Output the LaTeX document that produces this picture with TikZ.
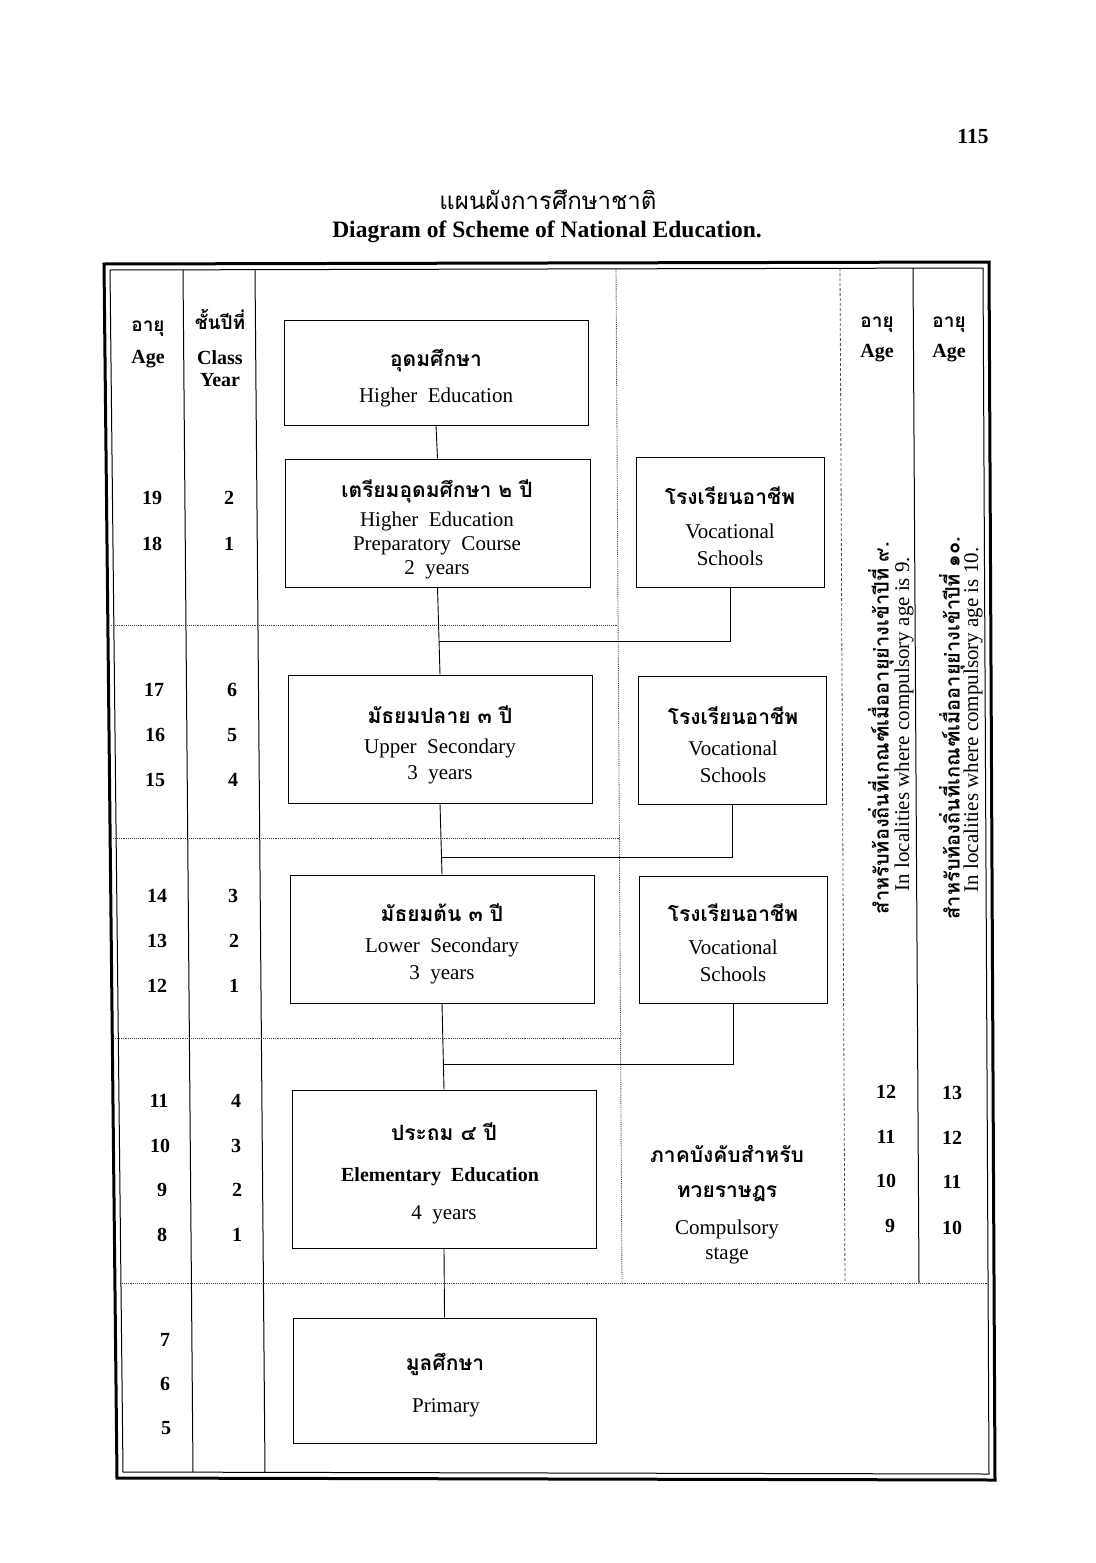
\documentclass[tikz,border=0pt]{standalone}
\usepackage{fontspec}
\setmainfont{Liberation Serif}
\newfontfamily\thai[Script=Thai]{Loma}
\usetikzlibrary{calc}
\begin{document}
\begin{tikzpicture}[x=1pt,y=-1pt,
  box/.style={draw, line width=1pt, inner sep=0pt, minimum width=#1},
  box/.default=304pt,
  th/.style={font=\thai\bfseries\fontsize{21}{24}\selectfont, inner sep=0pt},
  en/.style={font=\fontsize{21}{24}\selectfont, inner sep=0pt},
  num/.style={font=\bfseries\fontsize{20}{22}\selectfont, inner sep=0pt},
  hd/.style={font=\bfseries\fontsize{20}{22}\selectfont, inner sep=0pt},
  thh/.style={font=\thai\bfseries\fontsize{19}{22}\selectfont, inner sep=0pt},
  sep/.style={line width=1pt},
  dots/.style={densely dotted, line width=0.9pt, black!75},
  link/.style={line width=0.9pt}]
\useasboundingbox (0,0) rectangle (1095,1563);

% page number and titles
\node[font=\bfseries\fontsize{21.5}{24}\selectfont, inner sep=0pt] (pg) at (973,137) {115};
\node[font=\thai\fontsize{24}{28}\selectfont, inner sep=0pt] (titth) at (548,200) {แผนผังการศึกษาชาติ};
\node[font=\bfseries\fontsize{23.5}{26}\selectfont, inner sep=0pt] (titen) at (547,232) {Diagram of Scheme of National Education.};

% frame (double rule)
\coordinate (oTL) at (104,264); \coordinate (oTR) at (989,262);
\coordinate (oBR) at (995,1480); \coordinate (oBL) at (117,1478);
\coordinate (iTL) at (110,270); \coordinate (iTR) at (983,268);
\coordinate (iBR) at (989,1474); \coordinate (iBL) at (123,1472);
\draw[line width=3pt] (oTL) -- (oTR) -- (oBR) -- (oBL) -- cycle;
\draw[line width=1pt] (iTL) -- (iTR) -- (iBR) -- (iBL) -- cycle;

% column separators
\coordinate (c1t) at (183,270); \coordinate (c1b) at (193,1472);
\coordinate (c2t) at (255,270); \coordinate (c2b) at (265,1472);
\draw[sep] (c1t) -- (c1b);
\draw[sep] (c2t) -- (c2b);
\coordinate (c3t) at (616,269); \coordinate (c3b) at (622,1283);
\draw[dots] (c3t) -- (c3b);
\coordinate (c4t) at (840,268); \coordinate (c4b) at (845,1283);
\draw[densely dashed, line width=0.8pt, black!70] (c4t) -- (c4b);
\coordinate (c5t) at (913,268); \coordinate (c5b) at (919,1283);
\draw[sep] (c5t) -- (c5b);

% dotted horizontal rules
\coordinate (h1a) at (111,625); \coordinate (h1b) at (617,625);
\coordinate (h2a) at (113,838); \coordinate (h2b) at (619,838);
\coordinate (h3a) at (115,1038); \coordinate (h3b) at (620,1038);
\coordinate (h4a) at (120,1283); \coordinate (h4b) at (987,1283);
\draw[dots] (h1a) -- (h1b);
\draw[dots] (h2a) -- (h2b);
\draw[dots] (h3a) -- (h3b);
\draw[dots] (h4a) -- (h4b);

% boxes
\node[box, minimum height=105pt] (hi) at (436,372.5) {};
\node[box=305pt, minimum height=128pt] (prep) at (437.5,523) {};
\node[box=188pt, minimum height=130pt] (voc1) at (730,522) {};
\node[box, minimum height=128pt] (upper) at (440,739) {};
\node[box=188pt, minimum height=128pt] (voc2) at (732,740) {};
\node[box, minimum height=128pt] (lower) at (442,939) {};
\node[box=188pt, minimum height=127pt] (voc3) at (733,939.5) {};
\node[box, minimum height=158pt] (elem) at (444,1169) {};
\node[box=303pt, minimum height=125pt] (prim) at (444.5,1380.5) {};

% box texts
\node[th] (hiT) at (436,361) {อุดมศึกษา};
\node[en] (hiE) at (436,397) {Higher\ \ Education};

\node[th] (prT) at (437,491) {เตรียมอุดมศึกษา ๒ ปี};
\node[en] (prE1) at (437,521) {Higher\ \ Education};
\node[en] (prE2) at (437,546) {Preparatory\ \ Course};
\node[en] (prE3) at (437,570) {2\ \ years};

\node[th] (v1T) at (730,496) {โรงเรียนอาชีพ};
\node[en] (v1E1) at (730,531) {Vocational};
\node[en] (v1E2) at (730,558) {Schools};

\node[th] (upT) at (440,715) {มัธยมปลาย ๓ ปี};
\node[en] (upE1) at (440,748) {Upper\ \ Secondary};
\node[en] (upE2) at (440,775) {3\ \ years};

\node[th] (v2T) at (733,716) {โรงเรียนอาชีพ};
\node[en] (v2E1) at (733,748) {Vocational};
\node[en] (v2E2) at (733,775) {Schools};

\node[th] (loT) at (442,913) {มัธยมต้น ๓ ปี};
\node[en] (loE1) at (442,947) {Lower\ \ Secondary};
\node[en] (loE2) at (442,975) {3\ \ years};

\node[th] (v3T) at (733,913) {โรงเรียนอาชีพ};
\node[en] (v3E1) at (733,947) {Vocational};
\node[en] (v3E2) at (733,974) {Schools};

\node[th] (elT) at (444,1132) {ประถม ๔ ปี};
\node[en, font=\bfseries\fontsize{20}{24}\selectfont] (elE1) at (440,1177) {Elementary\ \ Education};
\node[en] (elE2) at (444,1215) {4\ \ years};

\node[th] (cpT1) at (727,1154) {ภาคบังคับสำหรับ};
\node[th] (cpT2) at (727,1194) {ทวยราษฎร};
\node[en] (cpE1) at (727,1229) {Compulsory};
\node[en] (cpE2) at (727,1256) {stage};

\node[th] (prmT) at (445,1364) {มูลศึกษา};
\node[en] (prmE) at (446,1408) {Primary};

% connectors
\coordinate (j1) at (439,641);
\coordinate (j2) at (442,857);
\coordinate (j3) at (444,1064);
\draw[link] (hi.south) -- (prep.north);
\draw[link] (prep.south) -- (upper.north);
\draw[link] (voc1.south) |- (j1);
\draw[link] (upper.south) -- (lower.north);
\draw[link] (voc2.south) |- (j2);
\draw[link] (lower.south) -- (elem.north);
\draw[link] (voc3.south) |- (j3);
\draw[link] (elem.south) -- (prim.north);

% left headers
\node[thh] (ageT) at (148,329) {อายุ};
\node[hd] (ageE) at (148,359) {Age};
\node[thh] (clsT) at (220,319) {ชั้นปีที่};
\node[hd] (clsE1) at (220,358) {Class};
\node[hd] (clsE2) at (220,380) {Year};

% left numbers: age
\node[num] (a19) at (152,498) {19};
\node[num] (a18) at (152,544) {18};
\node[num] (a17) at (154,690) {17};
\node[num] (a16) at (155,735) {16};
\node[num] (a15) at (155,780) {15};
\node[num] (a14) at (157,896) {14};
\node[num] (a13) at (157,941) {13};
\node[num] (a12) at (157,986) {12};
\node[num] (a11) at (159,1101) {11};
\node[num] (a10) at (160,1146) {10};
\node[num] (a9) at (162,1190) {9};
\node[num] (a8) at (162,1235) {8};
\node[num] (a7) at (165,1340) {7};
\node[num] (a6) at (165,1384) {6};
\node[num] (a5) at (166,1428) {5};

% left numbers: class year
\node[num] (y2a) at (229,498) {2};
\node[num] (y1a) at (229,544) {1};
\node[num] (y6) at (232,690) {6};
\node[num] (y5) at (232,735) {5};
\node[num] (y4a) at (233,780) {4};
\node[num] (y3a) at (233,896) {3};
\node[num] (y2b) at (234,941) {2};
\node[num] (y1b) at (234,986) {1};
\node[num] (y4b) at (236,1101) {4};
\node[num] (y3b) at (236,1146) {3};
\node[num] (y2c) at (237,1190) {2};
\node[num] (y1c) at (237,1235) {1};

% right headers
\node[thh] (rA1T) at (877,325) {อายุ};
\node[hd] (rA1E) at (877,353) {Age};
\node[thh] (rA2T) at (949,325) {อายุ};
\node[hd] (rA2E) at (949,353) {Age};

% vertical notes
\node[font=\thai\bfseries\fontsize{20}{22}\selectfont, inner sep=0pt, rotate=90] (n1T) at (881,728) {สำหรับท้องถิ่นที่เกณฑ์เมื่ออายุย่างเข้าปีที่ ๙.};
\node[font=\fontsize{21}{24}\selectfont, inner sep=0pt, rotate=90] (n1E) at (904,724) {In localities where compulsory age is 9.};
\node[font=\thai\bfseries\fontsize{20}{22}\selectfont, inner sep=0pt, rotate=90] (n2T) at (952,728) {สำหรับท้องถิ่นที่เกณฑ์เมื่ออายุย่างเข้าปีที่ ๑๐.};
\node[font=\fontsize{21}{24}\selectfont, inner sep=0pt, rotate=90] (n2E) at (973,720) {In localities where compulsory age is 10.};

% right numbers
\node[num] (r12) at (886,1092) {12};
\node[num] (r11) at (886,1137) {11};
\node[num] (r10) at (886,1181) {10};
\node[num] (r9) at (890,1226) {9};
\node[num] (s13) at (952,1093) {13};
\node[num] (s12) at (952,1138) {12};
\node[num] (s11) at (952,1182) {11};
\node[num] (s10) at (952,1228) {10};
\end{tikzpicture}
\end{document}
